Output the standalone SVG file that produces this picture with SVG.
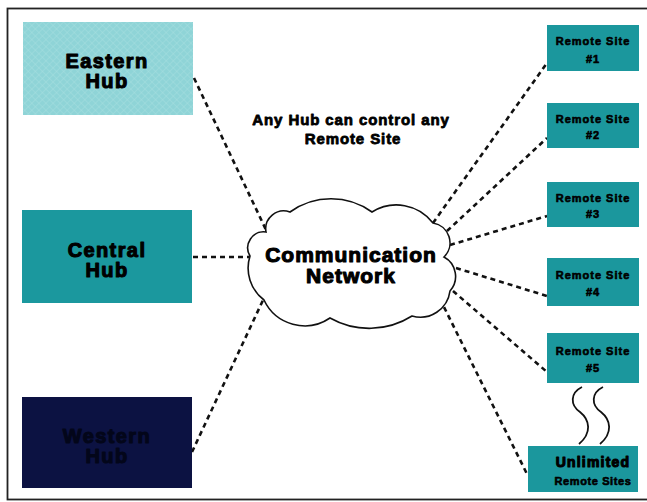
<svg xmlns="http://www.w3.org/2000/svg" width="647" height="502" viewBox="0 0 647 502">
<style>
.lbl{font-family:"Liberation Sans",Arial,sans-serif;font-weight:bold;fill:#000;stroke:#000;stroke-width:1.1;stroke-linejoin:round;text-anchor:middle}
.hub{font-size:20px;letter-spacing:1.4px}
.site{font-size:11px;letter-spacing:1px;stroke-width:0.6}
.conn{fill:none;stroke:#111;stroke-width:2.6;stroke-dasharray:5 4}
.box{stroke:none}
.teal{fill:#1b979d}
</style>
<defs>
<pattern id="hatch" width="5" height="5" patternUnits="userSpaceOnUse" patternTransform="rotate(45)">
<rect width="5" height="5" fill="#8fd4d7"/>
<line x1="0" y1="0" x2="0" y2="5" stroke="#a6dfe0" stroke-width="1"/>
<line x1="0" y1="0" x2="5" y2="0" stroke="#a6dfe0" stroke-width="1"/>
</pattern>
</defs>
<rect x="0" y="0" width="647" height="502" fill="#fff"/>
<rect x="7.5" y="8.5" width="660" height="491" fill="none" stroke="#222" stroke-width="1.8"/>
<g id="connectors">
<path class="conn" d="M194 78 L267 232"/>
<path class="conn" d="M193 257 L251 257"/>
<path class="conn" d="M192 452 L264 298"/>
<path class="conn" d="M433 223 L547 63"/>
<path class="conn" d="M447 231 L547 138"/>
<path class="conn" d="M450 245 L547 216"/>
<path class="conn" d="M456 268 L547 296"/>
<path class="conn" d="M453 291 L547 372"/>
<path class="conn" d="M440 299 L527 474"/>
<path d="M582 387 C570 393,570 405,580 412 C590 420,592 433,579 444" fill="none" stroke="#111" stroke-width="1.8"/>
<path d="M603 387 C591 393,591 405,601 412 C611 420,613 433,600 444" fill="none" stroke="#111" stroke-width="1.8"/>
</g>
<g id="eastern-hub">
<rect class="box" x="23" y="22" width="170" height="93" fill="url(#hatch)"/>
<text class="lbl hub" x="107" y="68">Eastern</text>
<text class="lbl hub" x="107" y="88">Hub</text>
</g>
<g id="central-hub">
<rect class="box" x="22" y="210" width="170" height="93" fill="#1b989e"/>
<text class="lbl hub" x="107" y="257">Central</text>
<text class="lbl hub" x="107" y="277">Hub</text>
</g>
<g id="western-hub">
<rect class="box" x="22" y="397" width="170" height="91" fill="#0c1242"/>
<text class="lbl hub" x="107" y="443" style="fill:#03061a;stroke:#03061a">Western</text>
<text class="lbl hub" x="107" y="463" style="fill:#03061a;stroke:#03061a">Hub</text>
</g>
<g id="network">
<path d="M250 256 A16 16 0 0 1 266 232 A18 18 0 0 1 290 212 A70 70 0 0 1 372 212 A46 46 0 0 1 433 223 A20 20 0 0 1 444 257 A22 22 0 0 1 450 291 A30 30 0 0 1 412 316 A80 80 0 0 1 330 318 A45 45 0 0 1 264 300 A40 40 0 0 1 250 256 Z" fill="#fff" stroke="#111" stroke-width="1.6"/>
<text class="lbl" x="351" y="262" style="font-size:21px;letter-spacing:1px">Communication</text>
<text class="lbl" x="351" y="283" style="font-size:21px;letter-spacing:1px">Network</text>
</g>
<g id="note">
<text class="lbl" x="351" y="125" style="font-size:15px;letter-spacing:0.9px;stroke-width:0.8">Any Hub can control any</text>
<text class="lbl" x="353" y="144" style="font-size:15px;letter-spacing:0.9px;stroke-width:0.8">Remote Site</text>
</g>
<g id="site-1">
<rect class="box teal" x="547" y="25" width="92" height="46"/>
<text class="lbl site" x="593" y="45">Remote Site</text>
<text class="lbl site" x="593" y="63">#1</text>
</g>
<g id="site-2">
<rect class="box teal" x="547" y="103" width="92" height="45"/>
<text class="lbl site" x="593" y="123">Remote Site</text>
<text class="lbl site" x="593" y="139">#2</text>
</g>
<g id="site-3">
<rect class="box teal" x="547" y="182" width="92" height="45"/>
<text class="lbl site" x="593" y="202">Remote Site</text>
<text class="lbl site" x="593" y="218">#3</text>
</g>
<g id="site-4">
<rect class="box teal" x="547" y="258" width="92" height="48"/>
<text class="lbl site" x="593" y="279">Remote Site</text>
<text class="lbl site" x="593" y="296">#4</text>
</g>
<g id="site-5">
<rect class="box teal" x="547" y="333" width="92" height="50"/>
<text class="lbl site" x="593" y="355">Remote Site</text>
<text class="lbl site" x="593" y="372">#5</text>
</g>
<g id="unlimited">
<rect class="box teal" x="528" y="446" width="110" height="46"/>
<text class="lbl" x="593" y="467" style="font-size:14px;letter-spacing:1.2px">Unlimited</text>
<text class="lbl site" x="593" y="485" style="letter-spacing:0.6px">Remote Sites</text>
</g>
</svg>
